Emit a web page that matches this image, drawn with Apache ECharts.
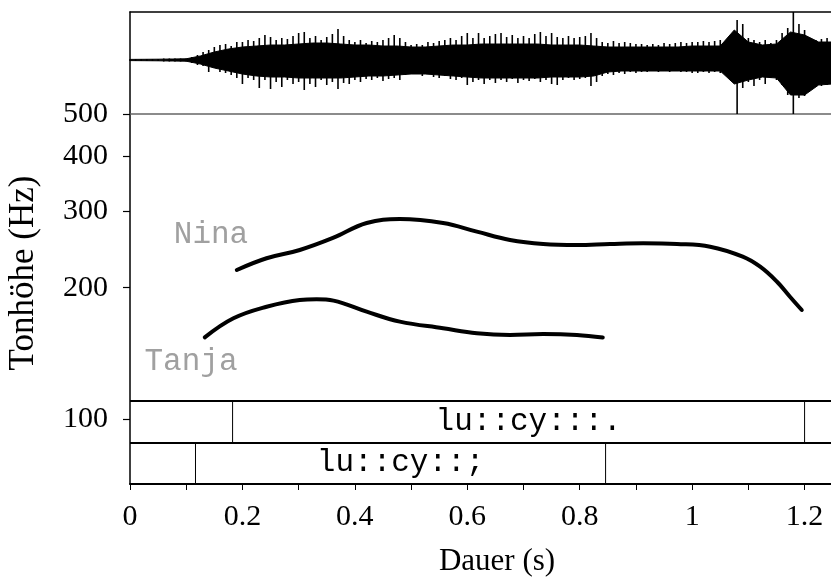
<!DOCTYPE html>
<html><head><meta charset="utf-8">
<script src="https://cdn.jsdelivr.net/npm/echarts@6/dist/echarts.min.js"></script>
<style>html,body{margin:0;padding:0;background:#fff}#c{width:831px;height:577px}</style>
</head><body><div id="c"></div>
<script>
// ---- data ----
const X_MAX = 1.247;           // seconds shown
const WAVE_STEP = 0.01;        // waveform peak sample step (s)
// waveform peaks (arbitrary amplitude units), one value per WAVE_STEP
const waveTop = [1,1,1,1,1,1,1.5,1.5,1.5,1.5,1.5,3,5,8,10,13,15,16,14,18,
  18,20,19,22,25,23,20,22,21,24,27,28,22,24,20,23,26,31,24,20,
  18,20,17,19,18,20,22,25,22,18,15,16,15,18,17,19,20,22,20,24,
  27,22,27,22,24,26,27,23,25,22,24,22,26,28,24,27,23,22,24,22,
  23,24,27,22,18,17,19,17,18,17,16,16,15,16,15,17,16,17,18,17,
  18,18,19,18,19,20,19,22,40,36,22,20,18,20,17,20,27,32,48,36,
  30,22,20,21,22];
const waveBottom = [-1,-1,-1,-1,-1,-1,-1.5,-1.5,-1.5,-1.5,-1.5,-3,-5,-6,-12,-8,-12,-13,-15,-18,
  -24,-18,-20,-28,-20,-29,-22,-27,-20,-24,-22,-30,-24,-27,-20,-25,-22,-29,-23,-24,
  -20,-22,-19,-20,-18,-21,-19,-18,-20,-15,-13,-14,-16,-14,-17,-18,-16,-19,-20,-18,
  -25,-22,-20,-24,-20,-23,-20,-22,-19,-23,-20,-21,-19,-22,-20,-24,-25,-20,-18,-20,
  -19,-18,-26,-22,-16,-14,-15,-13,-14,-12,-13,-12,-12,-11,-12,-11,-12,-11,-12,-12,
  -13,-13,-12,-13,-12,-13,-12,-18,-54,-28,-22,-26,-20,-24,-18,-20,-25,-35,-54,-38,
  -36,-25,-22,-26,-25];
// dense core of the waveform, one value per CORE_STEP
const CORE_STEP = 0.025;
const coreTop = [0.6,0.7,0.8,1,1.2,4,8,11,13,14,15,15,16,17,17,16,15,15,14,14,
  13,13,14,15,15,16,16,16,16,16,15,15,15,14,13,13,13,13,13,13,
  14,14,14,30,18,15,16,28,25,18,18];
const coreBottom = [-0.6,-0.7,-0.8,-1,-1.2,-4,-8,-11,-14,-16,-17,-17,-18,-18,-18,-18,-17,-16,-16,-15,
  -14,-14,-15,-16,-17,-18,-18,-18,-18,-18,-17,-17,-17,-16,-12,-11,-11,-11,-11,-11,
  -11,-11,-11,-24,-20,-17,-18,-35,-35,-25,-24];

// pitch contours: time (s) and F0 (Hz)
const ninaTime = [0.190,0.243,0.302,0.361,0.421,0.480,0.557,0.617,0.676,0.735,0.795,0.854,0.913,0.973,1.032,1.090,1.121,1.151,1.174,1.195];
const ninaHz   = [219.6,233.6,244.0,260.0,281.4,287.3,281.4,268.8,257.3,251.9,250.6,251.9,252.8,251.9,248.3,235.6,223.4,206.4,190.7,177.8];
const tanjaTime = [0.133,0.184,0.243,0.302,0.332,0.362,0.421,0.480,0.557,0.617,0.676,0.735,0.795,0.841];
const tanjaHz   = [153.9,170.2,180.9,187.5,188.2,186.8,176.2,167.2,161.5,157.3,155.9,156.7,155.9,153.7];

// axis ticks
const yTicksHz = [100,200,300,400,500];
const yMinHz = 71, yMaxHz = 500;
const xTicks = [0,0.1,0.2,0.3,0.4,0.5,0.6,0.7,0.8,0.9,1.0,1.1,1.2];
const xLabels = [0,0.2,0.4,0.6,0.8,1.0,1.2];

// annotation tiers: boundaries (s) and labels
const tierUpperBounds = [0, 0.1825, 1.2, X_MAX];
const tierUpperLabels = ['', 'lu::cy:::.', ''];
const tierLowerBounds = [0, 0.1165, 0.846, X_MAX];
const tierLowerLabels = ['', 'lu::cy::;', ''];

// ---- build ----
const tAt = (i, step) => +(i*step).toFixed(3);
const peakData = waveTop.map((v,i)=>[tAt(i,WAVE_STEP), waveBottom[i], v]);
const coreTopData = coreTop.map((v,i)=>[tAt(i,CORE_STEP), v]);
const coreBotData = coreBottom.map((v,i)=>[tAt(i,CORE_STEP), v]);
const lg = v => Math.log10(v);
const ninaData = ninaTime.map((t,i)=>[t, lg(ninaHz[i])]);
const tanjaData = tanjaTime.map((t,i)=>[t, lg(tanjaHz[i])]);

const tierData = [];
function addTier(bounds, labels, row){
  for (let i=0;i<labels.length;i++) tierData.push([bounds[i], bounds[i+1], row, labels[i]]);
}
addTier(tierLowerBounds, tierLowerLabels, 0);
addTier(tierUpperBounds, tierUpperLabels, 1);

const serif = '"Liberation Serif", "Times New Roman", serif';
const mono = '"Liberation Mono", "Courier New", monospace';

const chart = echarts.init(document.getElementById('c'), null, {renderer:'canvas'});
chart.setOption({
  animation: false,
  backgroundColor: '#fff',
  grid: [
    {left:130, right:0, top:12, height:102},
    {left:130, right:0, top:114, bottom:93},
    {left:130, right:0, top:401, bottom:93}
  ],
  xAxis: [
    {gridIndex:0, type:'value', min:0, max:X_MAX, position:'top',
      axisLine:{show:true, onZero:false, lineStyle:{color:'#000', width:1.5}},
      axisTick:{show:false}, axisLabel:{show:false}, splitLine:{show:false}},
    {gridIndex:0, type:'value', min:0, max:X_MAX, position:'bottom',
      axisLine:{show:true, onZero:false, lineStyle:{color:'#666', width:1.5}},
      axisTick:{show:false}, axisLabel:{show:false}, splitLine:{show:false}},
    {gridIndex:1, type:'value', min:0, max:X_MAX, position:'bottom',
      axisLine:{show:true, onZero:false, lineStyle:{color:'#000', width:2}},
      axisTick:{show:true, length:6, lineStyle:{color:'#000', width:1}, customValues:xTicks},
      axisLabel:{show:true, customValues:xLabels, margin:18, color:'#000',
        fontFamily:serif, fontSize:30, formatter:v=>String(+(+v).toFixed(1))},
      splitLine:{show:false}},
    {gridIndex:2, type:'value', min:0, max:X_MAX, show:false}
  ],
  yAxis: [
    {gridIndex:0, type:'value', min:-54, max:48,
      axisLine:{show:true, onZero:false, lineStyle:{color:'#000', width:1.5}},
      axisTick:{show:false}, axisLabel:{show:false}, splitLine:{show:false}},
    {gridIndex:1, type:'value', min:lg(yMinHz), max:lg(yMaxHz),
      axisLine:{show:true, onZero:false, lineStyle:{color:'#000', width:1.5}},
      axisTick:{show:true, length:7, lineStyle:{color:'#000', width:1.2}, customValues:yTicksHz.map(lg)},
      axisLabel:{show:true, customValues:yTicksHz.map(lg), margin:22, color:'#000',
        fontFamily:serif, fontSize:30, formatter:v=>String(Math.round(Math.pow(10,v)))},
      splitLine:{show:false}},
    {gridIndex:2, type:'value', min:0, max:2, interval:1,
      axisLine:{show:false}, axisTick:{show:false}, axisLabel:{show:false},
      splitLine:{show:true, lineStyle:{color:'#000', width:2}}}
  ],
  series: [
    {type:'line', xAxisIndex:0, yAxisIndex:0, data:coreTopData, showSymbol:false,
      lineStyle:{color:'#000', width:1}, areaStyle:{color:'#000', opacity:1}},
    {type:'line', xAxisIndex:0, yAxisIndex:0, data:coreBotData, showSymbol:false,
      lineStyle:{color:'#000', width:1}, areaStyle:{color:'#000', opacity:1}},
    {type:'custom', xAxisIndex:0, yAxisIndex:0, data:peakData,
      renderItem:function(params, api){
        const a = api.coord([api.value(0), api.value(1)]);
        const b = api.coord([api.value(0), api.value(2)]);
        return {type:'line', shape:{x1:a[0], y1:a[1], x2:b[0], y2:b[1]},
          style:{stroke:'#000', lineWidth:1.6}};
      }},
    {type:'line', xAxisIndex:2, yAxisIndex:1, data:ninaData, showSymbol:false, smooth:0.4,
      lineStyle:{color:'#000', width:4, cap:'round'}},
    {type:'line', xAxisIndex:2, yAxisIndex:1, data:tanjaData, showSymbol:false, smooth:0.4,
      lineStyle:{color:'#000', width:4, cap:'round'}},
    {type:'custom', xAxisIndex:3, yAxisIndex:2, data:tierData, clip:false,
      renderItem:function(params, api){
        const s = api.value(0), e = api.value(1), row = api.value(2);
        const label = tierData[params.dataIndex][3];
        const p0 = api.coord([s, row]);
        const p1 = api.coord([e, row+1]);
        const children = [];
        if (s > 0) children.push({type:'line', shape:{x1:p0[0], y1:p0[1], x2:p0[0], y2:p1[1]},
          style:{stroke:'#000', lineWidth:1}});
        if (label) children.push({type:'text', x:(p0[0]+p1[0])/2 + (row===1?10:0), y:(p0[1]+p1[1])/2,
          style:{text:label, font:'31px '+mono, fill:'#000', align:'center', verticalAlign:'middle'}});
        return {type:'group', children:children};
      }}
  ],
  graphic: [
    {type:'text', x:24, y:273, rotation:Math.PI/2,
      style:{text:'Tonhöhe (Hz)', font:'35px '+serif, fill:'#000', align:'center', verticalAlign:'middle'}},
    {type:'text', x:497, y:562,
      style:{text:'Dauer (s)', font:'31px '+serif, fill:'#000', align:'center', verticalAlign:'middle'}},
    {type:'text', x:211, y:235,
      style:{text:'Nina', font:'31px '+mono, fill:'#a0a0a0', align:'center', verticalAlign:'middle'}},
    {type:'text', x:191, y:362,
      style:{text:'Tanja', font:'31px '+mono, fill:'#a0a0a0', align:'center', verticalAlign:'middle'}}
  ]
});
</script></body></html>
